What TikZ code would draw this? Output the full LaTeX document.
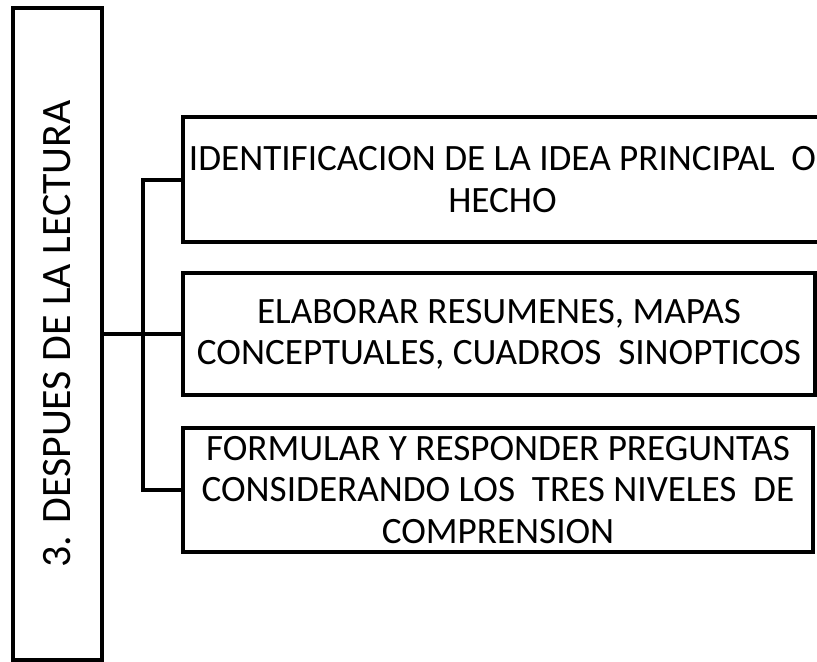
\documentclass[tikz,border=0pt]{standalone}
\usepackage{fontspec}
\setmainfont{Carlito}
\begin{document}
\begin{tikzpicture}[x=1bp, y=-1bp, line width=4bp,
    itembox/.style={draw, align=center, inner sep=0pt, font=\fontsize{37.3}{41.5}\selectfont}]
    \useasboundingbox (0,0) rectangle (817,662);

    % Title box
    \node[draw, rotate=90, minimum width=652bp, minimum height=89bp, inner sep=0pt,
          font=\fontsize{42}{48}\selectfont] (main) at (57.5,334) {3. DESPUES DE LA LECTURA};

    % Items
    \node[itembox, minimum width=639bp, minimum height=125bp] (idea) at (502.5,179.5)
        {IDENTIFICACION DE LA IDEA PRINCIPAL~ O\\HECHO};
    \node[itembox, minimum width=632bp, minimum height=122bp] (resumen) at (499,334)
        {ELABORAR RESUMENES, MAPAS\\CONCEPTUALES, CUADROS~ SINOPTICOS};
    \node[itembox, minimum width=630bp, minimum height=124bp] (preguntas) at (498,490)
        {FORMULAR Y RESPONDER PREGUNTAS\\CONSIDERANDO LOS~ TRES NIVELES~ DE\\COMPRENSION};

    % Bus
    \coordinate (bus) at (143,334);
    \draw (main.south) -- (bus);
    \draw (idea.west) -- (idea.west -| bus) -- (preguntas.west -| bus) -- (preguntas.west);
    \draw (bus) -- (resumen.west);
\end{tikzpicture}
\end{document}
